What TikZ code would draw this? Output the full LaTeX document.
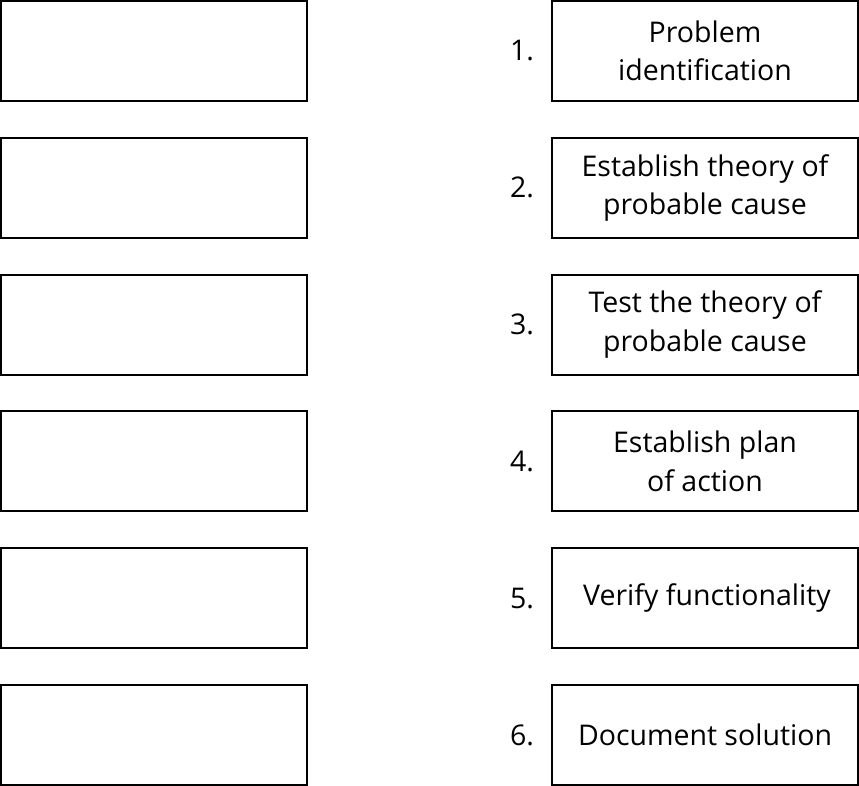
\documentclass[tikz,border=0pt]{standalone}
\usepackage{fontspec}
\setmainfont{Open Sans}
\usepackage{tikz}

\begin{document}
\begin{tikzpicture}[x=1pt,y=-1pt,
  blank/.style={draw,line width=2pt,minimum width=306pt,minimum height=100pt,inner sep=0pt},
  stage/.style={draw,line width=2pt,minimum width=306pt,minimum height=100pt,inner sep=0pt,
    align=center,font=\fontsize{28.5}{38.5}\selectfont},
  num/.style={font=\fontsize{28.5}{30}\selectfont}]
  \useasboundingbox (0,0) rectangle (859,786);
  % answer boxes left and steps right
  \foreach \i/\txt/\dx in {1/{Problem\\identification}/0,
                           2/{Establish theory of\\probable cause}/0,
                           3/{Test the theory of\\probable cause}/0,
                           4/{Establish plan\\of action}/0,
                           5/{Verify functionality}/4,
                           6/{Document solution}/0} {
    \node[blank] (blank\i) at (153.5,{51+136.8*(\i-1)}) {};
    \node[stage] (stage\i) at (705,{51+136.8*(\i-1)}) {\hspace*{\dx pt}\txt};
    \node[num] (num\i) at (522,{51+136.8*(\i-1)}) {\i.};
  }
\end{tikzpicture}
\end{document}
